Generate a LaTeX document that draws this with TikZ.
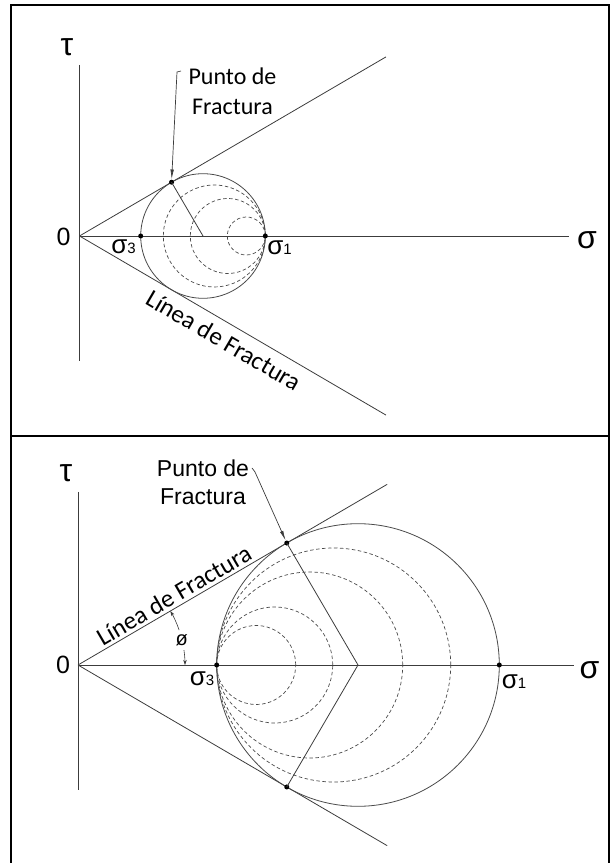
\documentclass[tikz,border=0pt]{standalone}
\usepackage{fontspec}
\setmainfont{Liberation Sans}
\newfontfamily\carlito{Carlito}
\usetikzlibrary{arrows.meta, positioning, calc}
\definecolor{clrAxis}{HTML}{3C3C3C}
\definecolor{clrCircle}{HTML}{4A4A4A}
\newcommand{\sigsub}[1]{σ{\fontsize{15}{17}\selectfont #1}}

\begin{document}
\begin{tikzpicture}[x=1pt, y=1pt,
    frame/.style={draw=black, line width=1.7pt},
    axis/.style={draw=clrAxis, line width=0.9pt},
    envelope/.style={draw=clrAxis, line width=0.8pt},
    mohr/.style={draw=clrCircle, line width=0.8pt},
    trial/.style={draw=clrCircle, line width=0.7pt, dash pattern=on 3.5pt off 2.5pt},
    radline/.style={draw=clrAxis, line width=0.8pt},
    pointer/.style={-{Latex[length=10pt, width=3.5pt]}, line width=0.7pt, clrAxis},
    angarrow/.style={-{Stealth[length=5pt, width=3.5pt]}, line width=0.6pt, clrAxis},
    dot/.style={circle, fill=black, inner sep=0pt, minimum size=5pt},
    biglbl/.style={font=\fontsize{32}{36}\selectfont, inner sep=0pt},
    zerolbl/.style={font=\fontsize{25}{28}\selectfont, inner sep=0pt},
    siglbl/.style={font=\fontsize{26}{30}\selectfont, inner sep=0pt},
    calnote/.style={font=\carlito\fontsize{24}{30}\selectfont, align=center, inner sep=0pt},
    calline/.style={font=\carlito\fontsize{25}{30}\selectfont, inner sep=0pt},
    arialnote/.style={font=\fontsize{23}{28}\selectfont, align=center, inner sep=0pt},
]
\useasboundingbox (0,0) rectangle (610,863);
\def\phiang{30.3}

% === Frames ===
\draw[frame] (10.7,858) rectangle (609,427);
\draw[frame] (10.7,427) rectangle (609,-3);

% === Top panel: fracture at sigma_1 ===
\begin{scope}[shift={(79.5,627)}]
\coordinate (o1) at (0,0);
\coordinate (vt1) at (0,171);
\coordinate (vb1) at (0,-125);
\coordinate (he1) at (489.5,0);
\draw[axis] (vt1) -- (vb1);
\draw[axis] (o1) -- (he1);
\node[biglbl] (tau1) at (-12.5,189) {τ};
\node[biglbl] (sig1) at (507.5,-4) {σ};
\node[zerolbl] (zero1) at (-16,-1) {0};

\draw[envelope] (o1) -- (\phiang:355) coordinate (up1);
\draw[envelope] (o1) -- node[sloped, pos=0.5, below=8pt, calline] (linea1) {Línea de Fractura}
    (-\phiang:355) coordinate (lo1);

% circles
\coordinate (c1) at (123.5,0);
\draw[mohr] (c1) circle (62.3);
\foreach \r in {51,37.5,19}
    \draw[trial] (185.8-\r,0) circle (\r);

\node[dot] (s3a) at (61.2,0) {};
\node[dot] (s1a) at (185.8,0) {};
\node[dot] (fp1) at (\phiang:106.6) {};
\draw[radline] (fp1.center) -- (c1);

\node[siglbl] (s3lbl1) at (44,-11) {\sigsub{3}};
\node[siglbl] (s1lbl1) at (200,-12) {\sigsub{1}};

% pointer
\node[calnote] (punto1) at (153,145) {Punto de\\Fractura};
\coordinate (ps1) at (101.5,165);
\coordinate (hook1) at (97.5,164);
\draw[pointer] (ps1) -- (hook1) -- (fp1);
\end{scope}

% === Bottom panel: fracture at sigma_3 ===
\begin{scope}[shift={(78,198)}]
\coordinate (o2) at (0,0);
\coordinate (vt2) at (0,173);
\coordinate (vb2) at (0,-125);
\coordinate (he2) at (496,0);
\draw[axis] (vt2) -- (vb2);
\draw[axis] (o2) -- (he2);
\node[biglbl] (tau2) at (-12,192) {τ};
\node[biglbl] (sig2) at (511.5,-5) {σ};
\node[zerolbl] (zero2) at (-15,0) {0};

\draw[envelope] (o2) -- node[sloped, pos=0.33, above=3pt, calline] (linea2) {Línea de Fractura}
    (\phiang:358) coordinate (up2);
\draw[envelope] (o2) -- (-\phiang:358) coordinate (lo2);

% circles
\coordinate (c2) at (280,0);
\draw[mohr] (c2) circle (141.3);
\foreach \r in {39.5,58,93,117}
    \draw[trial] (138.7+\r,0) circle (\r);

\node[dot] (s3b) at (138.7,0) {};
\node[dot] (s1b) at (421.3,0) {};
\node[dot] (fp2) at (\phiang:241.8) {};
\node[dot] (fp3) at (-\phiang:241.8) {};
\draw[radline] (fp2.center) -- (c2) -- (fp3.center);

\node[siglbl] (s3lbl2) at (124,-14) {\sigsub{3}};
\node[siglbl] (s1lbl2) at (436,-17) {\sigsub{1}};

% friction angle
\draw[angarrow] (8:107) arc (8:0:107);
\draw[angarrow] (19:107) arc (19:\phiang:107);
\node[font=\fontsize{20}{24}\selectfont, inner sep=0pt] (phi2) at (13.5:106.7) {ø};

% pointer
\node[arialnote] (punto2) at (125,182.4) {Punto de\\Fractura};
\coordinate (ps2) at (174,197);
\coordinate (hook2) at (177,193);
\draw[pointer] (ps2) -- (hook2) -- (fp2);
\end{scope}

\end{tikzpicture}
\end{document}
